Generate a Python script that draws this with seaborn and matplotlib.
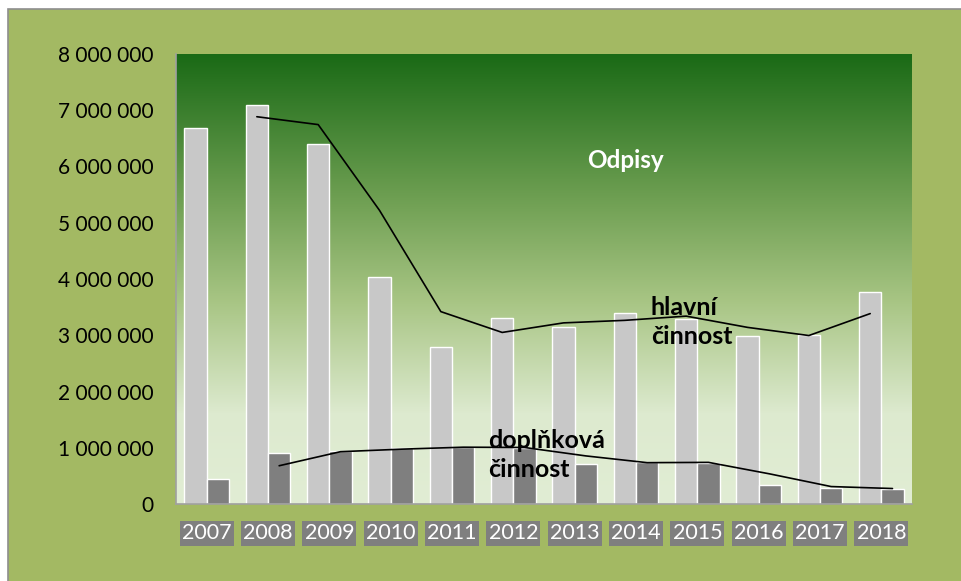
import numpy as np
import pandas as pd
import matplotlib
matplotlib.use("Agg")
import matplotlib.pyplot as plt
from matplotlib.colors import LinearSegmentedColormap
from matplotlib.patches import Rectangle
from matplotlib.ticker import FuncFormatter
import seaborn as sns

years = [str(y) for y in range(2007, 2019)]
hlavni = [6680000, 7090000, 6400000, 4040000, 2800000, 3300000,
          3140000, 3390000, 3290000, 2990000, 3000000, 3770000]
doplnkova = [450000, 910000, 950000, 1000000, 1020000, 990000,
             720000, 750000, 730000, 340000, 280000, 270000]
series_names = ["hlavní činnost", "doplňková činnost"]

df = pd.DataFrame({
    "rok": years * 2,
    "odpisy": hlavni + doplnkova,
    "cinnost": [series_names[0]] * len(years) + [series_names[1]] * len(years),
})

sns.set_theme(style="white")
plt.rcParams['font.family'] = ['Lato', 'DejaVu Sans']

fig = plt.figure(figsize=(9.62, 5.81), dpi=100, facecolor='white')
# olive chart area with thin grey frame
fig.patches.append(Rectangle((8 / 962, -0.01), 1.0, 1.01 - 9 / 581, transform=fig.transFigure,
                             facecolor='#A3B963', edgecolor='#8E8E8E', lw=1.2, zorder=-1))

ax = fig.add_axes([176 / 962, 1 - 504 / 581, 736 / 962, 450 / 581])
ax.set_facecolor('none')

# plot area gradient (dark green top -> pale bottom)
grad = LinearSegmentedColormap.from_list('g', [
    (0.0, '#E1EDD4'), (0.2, '#DDEACF'), (0.45, '#A8C584'),
    (0.68, '#6E9F52'), (1.0, '#1A6A16')])
ax.imshow(np.linspace(0, 1, 256).reshape(-1, 1), cmap=grad, origin='lower',
          extent=(0, 1, 0, 1), transform=ax.transAxes, aspect='auto', zorder=0)

sns.barplot(data=df, x="rok", y="odpisy", hue="cinnost", palette=["#C8C8C8", "#7F7F7F"],
            width=0.727, edgecolor="white", linewidth=1, legend=False, ax=ax, zorder=2)

# 2-period moving average trendlines
for cont, vals in zip(ax.containers, [hlavni, doplnkova]):
    xs = [p.get_x() + p.get_width() / 2 for p in cont]
    ma = pd.Series(vals).rolling(2).mean()
    ax.plot(xs, ma, color='black', lw=1.2, zorder=3)

ax.set_xlim(-0.5, len(years) - 0.5)
ax.set_ylim(0, 8000000)
ax.set_yticks(range(0, 8000001, 1000000))
ax.yaxis.set_major_formatter(FuncFormatter(lambda v, p: f"{int(v):,}".replace(",", " ")))
ax.set_xlabel("")
ax.set_ylabel("")

for s in ['top', 'right']:
    ax.spines[s].set_visible(False)
for s in ['left', 'bottom']:
    ax.spines[s].set_color('#A0A0A0')
    ax.spines[s].set_linewidth(1.2)
    ax.spines[s].set_zorder(4)

ax.tick_params(axis='y', length=0, labelsize=15, pad=16, labelcolor='black')
ax.tick_params(axis='x', length=0, labelsize=15.5, pad=14, labelcolor='white')
for lbl in ax.get_xticklabels():
    lbl.set_bbox(dict(boxstyle='square,pad=0.1', facecolor='#7F7F7F', edgecolor='none'))

ax.text(0.611, 0.764, "Odpisy", transform=ax.transAxes, color='white', fontsize=17.5,
        fontweight='bold', ha='center', va='center', zorder=5)
ax.text(0.645, 0.404, "hlavní\nčinnost", transform=ax.transAxes, color='black', fontsize=18,
        fontweight='bold', ha='left', va='center', linespacing=1.3, zorder=5)
ax.text(0.424, 0.109, "doplňková\nčinnost", transform=ax.transAxes, color='black', fontsize=18,
        fontweight='bold', ha='left', va='center', linespacing=1.3, zorder=5)

fig.savefig("out.png", dpi=100, facecolor=fig.get_facecolor())
